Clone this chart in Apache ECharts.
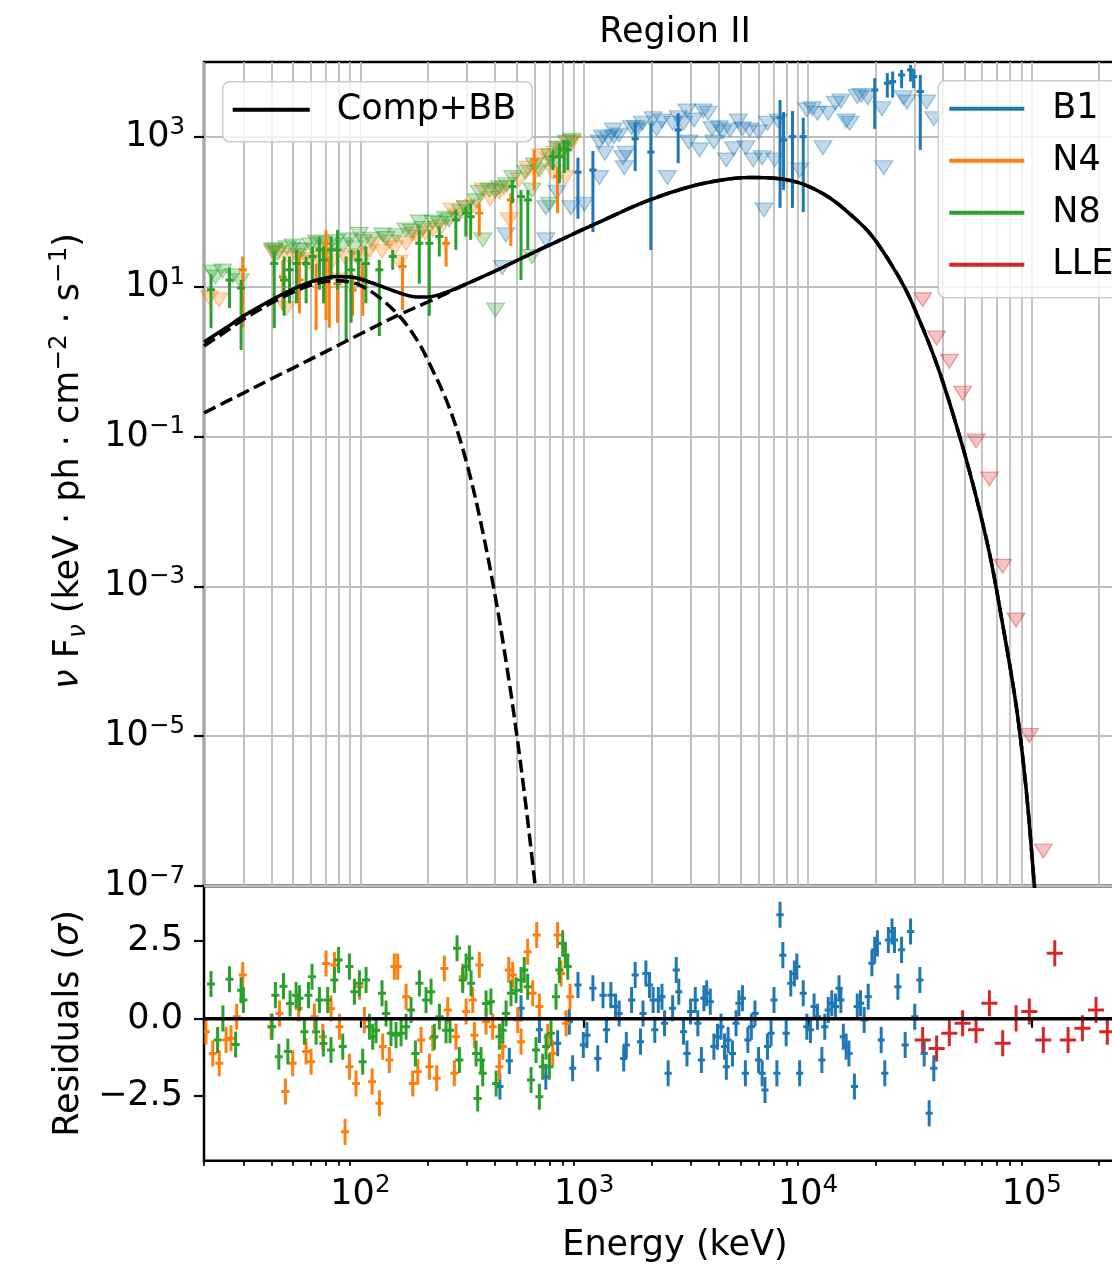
<!DOCTYPE html>
<html>
<head>
<meta charset="utf-8">
<title>Region II</title>
<script src="https://cdn.jsdelivr.net/npm/echarts@6.0.0/dist/echarts.min.js"></script>
<style>
html,body{margin:0;padding:0;background:#fff;overflow:hidden;width:1112px;height:1264px;}
#chart{width:1350px;height:1264px;}
</style>
</head>
<body>
<div id="chart"></div>
<script>
// ================= DATA =================
// Energies in keV, nuFnu in keV ph cm^-2 s^-1, residuals in sigma.
const detectorNames = ['B1', 'N4', 'N8', 'LLE'];

// Tick values
const xMajorTicksKeV = [100, 1000, 10000, 100000];
const xMinorTicksKeV = [20,30,40,50,60,70,80,90,200,300,400,500,600,700,800,900,
  2000,3000,4000,5000,6000,7000,8000,9000,20000,30000,40000,50000,60000,70000,80000,90000,200000,300000];
const fluxTicks = [1e-7, 1e-5, 1e-3, 1e-1, 1e1, 1e3];
const residualTicks = [-2.5, 0, 2.5];

// Model curves [E, nuFnu]
const modelTotal = [[20,1.83],[25,2.81],[30,4.06],[40,6.64],[50,9.31],[60,11.6],[70,13.1],[80,13.7],[90,13.5],[100,12.7],
  [120,10.5],[150,8.24],[178,7.3],[200,7.3],[250,8.74],[300,11.04],[400,16.2],[600,29.1],[800,43.4],[1170,73.1],[1900,139],
  [3040,221],[4400,274],[5470,287],[6860,283],[9160,243],[12340,158],[15950,85.3],[19190,49],[23080,22.0],[26970,9.9],
  [30410,4.59],[37350,0.99],[45880,0.147],[54270,0.0247],[64700,2.79e-3],[73950,3.24e-4],[85150,2.6e-5],[94400,1.97e-6],
  [102800,1.0e-7],[106000,3e-8]];
const modelComp = [[20,0.206],[25,0.29],[30,0.38],[40,0.59],[50,0.82],[60,1.08],[70,1.36],[80,1.67],[100,2.34],[120,3.08],
  [150,4.26],[200,6.25],[250,8.5],[300,11.0],[400,16.2],[600,29.1],[800,43.4],[1170,73.1],[1900,139],[3040,221],[4400,274],
  [5470,287],[6860,283],[9160,243],[12340,158],[15950,85.3],[19190,49],[23080,22.0],[26970,9.9],[30410,4.59],[37350,0.99],
  [45880,0.147],[54270,0.0247],[64700,2.79e-3],[73950,3.24e-4],[85150,2.6e-5],[94400,1.97e-6],[102800,1.0e-7],[106000,3e-8]];
const modelBB = [[20,1.62],[25,2.52],[30,3.68],[40,6.05],[50,8.49],[60,10.5],[70,11.7],[80,12.0],[90,11.5],[100,10.4],
  [120,7.4],[150,4.0],[178,2.0],[200,1.05],[250,0.24],[300,0.042],[350,5.85e-3],[400,7.5e-4],[450,9.0e-5],[500,1.03e-5],
  [550,1.13e-6],[600,1.2e-7],[620,4.9e-8]];

// Upper limits (triangles) [E, nuFnu]
const b1Limits = [[431,18.0],[447,49.2],[674,42.2],[674,113],[754,183],[872,113],[1000,126],[1169,286],[1169,853],[1209,1000],
  [1237,606],[1281,944],[1350,1240],[1356,1007],[1431,1063],[1490,527],[1511,387],[1539,606],[1629,1327],[1700,1327],[1721,1240],
  [1819,1522],[2033,1745],[2107,1284],[2227,1629],[2355,286],[2485,1522],[2630,1804],[2779,1522],[2880,2215],[2934,853],
  [3099,1686],[3279,671],[3403,2215],[3577,2071],[3729,1284],[3799,853],[4016,1327],[4163,1160],[4318,493],[4483,1240],
  [4653,695],[4887,1629],[5097,1284],[5282,718],[5489,1240],[5692,493],[6010,1160],[6243,527],[6358,106],[6593,1522],
  [7101,493],[7366,1629],[9181,362],[9888,2293],[10450,2374],[11030,2071],[11670,718],[12320,2071],[13270,2816],[14030,3013],
  [14820,1629],[15380,1522],[16610,3453],[17300,3581],[18480,3337],[21400,2374],[21810,387],[26720,3337],[27710,2916],
  [33920,2916],[36510,1745]];
const n4Limits = [[21.15,7.1],[23.4,6.67],[40.5,29],[43.4,29],[46.6,5.1],[48.2,24],[52,26],[56,23],[59.1,21.3],[65,24],[70,27],
  [75,22],[80.5,12.3],[86,24],[95,26],[100,22],[108,28],[113.3,36.8],[125,30],[134.7,39.4],[142,33],[149.3,21.3],[160,38],
  [170.5,50],[180,46],[195,52],[210.8,57.3],[230,62],[256,106],[270,88],[295,113],[320,120],[353,196],[380,150],[418,183],
  [440,210],[463,78],[513,267],[560,380],[606,338],[640,560],[699,493],[725,338],[740,600],[775,718],[825,286],[860,820],[888,853]];
const n8Limits = [[21.8,15.7],[22.5,13.5],[24.2,16.2],[27,14],[29,12],[40.5,31],[41.4,31],[42.5,28],[47,33],[50,35],[53.4,31],
  [55,31],[60,36],[63.6,39.5],[67,38],[72,34],[78,40],[84,36],[89.2,42.2],[94,33],[98.9,50],[103,40],[112,43],[125.8,49.2],
  [130,44],[145,48],[159.8,57.3],[170,55],[183.3,72.9],[190,60],[210.8,72.9],[225,70],[240,82],[249.6,78],[280,100],[295,113],
  [330,140],[340,183],[352.6,42.2],[376.6,196],[400,190],[402,4.9],[418,209],[450,230],[480,286],[547,338],[584,196],[584,25.3],
  [600,420],[631,362],[699,126],[700,560],[725,447],[760,700],[806,671],[832,853],[880,900]];
const lleLimits = [[32550,6.68],[37580,2.07],[42840,1.01],[49110,0.378],[56380,0.0873],[64700,0.0271],[74190,1.85e-3],
  [85130,3.54e-4],[97540,1.02e-5],[112700,2.94e-7]];

// Detected points with error bars [E, nuFnu, low, high]
const b1Points = [[938,338,80.7,527],[1094,362,53.6,648],[1690,944,350,1576],[1986,627,31,1522],[2630,1240,445,2071],
  [7505,1804,113,3119],[7780,912,196,2144],[8530,1007,113,2215],[9528,1007,99,1804],[19880,4242,1284,6077],
  [22630,5212,3337,7088],[23910,5473,3337,7447],[26210,6721,4466,7844],[28750,7844,5473,9145],[29660,6380,4466,7844],
  [31770,4029,671,6721]];
const n4Points = [[29.8,16.8,2.84,25.3],[45.0,13.6,4.9,22.8],[53.4,12.3,4.4,25.3],[63.4,12.3,2.65,20.4],[70.2,38,3.6,57],
  [72.6,13.6,2.84,25.3],[79.0,11,3.3,16.8],[92.4,9.07,4.1,14.6],[102.4,13.6,4.1,20.4],[154.3,18.6,4.9,25.3],
  [241.5,38,18.6,46.8],[339.8,96,46.8,130],[470,144,35,177],[598,493,196,671],[760,295,96,398]];
const n8Points = [[21.5,9.1,2.8,14.6],[26.0,12.3,5.2,18.0],[29.3,9.6,1.43,12.3],[41.2,20.4,2.8,29.8],[45.6,12.3,4.1,25.3],
  [48.2,16.8,6.0,25.3],[51.8,20.4,6.0,31],[57.2,20.4,6.0,25.3],[61.1,25.3,12.3,34.5],[65.6,31,9.1,46.8],[68.5,22.8,6.0,34.5],
  [74.0,31,12.3,46.8],[79.0,31,9.1,57],[86.3,13.6,1.95,25.3],[90.9,16.8,3.3,31],[98.0,22.8,11,31],[105.8,20.4,6.0,34.5],
  [121.5,16.8,2.2,22.8],[139.4,25.3,16.8,31],[183.3,38,11,57],[203.2,38,4.1,57],[225.2,46.8,25.3,63.6],[267,78,31,106],
  [296,96,46.8,117],[311,86,42.2,130],[478,217,130,267],[522,160,12.3,196],[560,144,31,196],[725,545,362,671],
  [775,545,240,820],[815,671,330,912],[845,671,362,912]];

// Residuals [E, sigma]
const b1Residuals = [[420,-2.19],[463,-1.36],[522,0.34],[631,-0.36],[674,-1.87],[761,-0.79],[858,-0.1],[888,-1.6],[938,1.09],
  [991,-0.85],[1029,-0.53],[1094,0.98],[1150,-1.28],[1214,0.76],[1257,-0.36],[1316,0.76],[1381,0.39],[1433,0.17],[1502,-1.28],
  [1543,-0.85],[1629,0.6],[1690,1.41],[1785,-0.74],[1832,0.17],[1887,1.46],[1959,1.09],[2033,0.6],[2068,-0.36],[2145,0.6],
  [2227,0.71],[2286,-0.15],[2373,-1.76],[2485,0.34],[2579,1.57],[2647,0.87],[2779,-0.42],[2880,-1.12],[2989,0.23],[3137,0.6],
  [3220,-0.15],[3341,-1.33],[3428,0.66],[3528,0.82],[3660,0.55],[3799,-0.9],[3943,-0.58],[4087,-0.26],[4239,-0.9],[4318,-1.55],
  [4398,-0.69],[4600,-1.12],[4773,-0.15],[4913,0.5],[5097,0.66],[5253,-1.76],[5389,-0.69],[5587,-0.26],[5798,0.17],[6015,-1.33],
  [6243,-1.76],[6426,-2.3],[6593,-0.9],[6842,-0.47],[7050,0.6],[7264,-1.76],[7505,3.35],[7723,2.05],[7990,-0.47],[8378,1.14],
  [8696,1.46],[8921,1.68],[9181,-1.76],[9528,0.82],[9888,-0.26],[10260,-0.36],[10650,0.39],[11030,0.06],[11540,-1.33],
  [11890,-0.26],[12320,0.28],[12780,0.5],[13270,0.39],[13770,0.98],[14030,0.6],[14390,-0.58],[14820,-0.9],[15250,-1.12],
  [16130,-2.19],[16610,0.39],[17180,0.5],[17830,-0.04],[18590,0.71],[19310,1.79],[19880,2.22],[20440,2.43],[21250,-0.69],
  [22050,-1.76],[22880,2.54],[23750,2.81],[24360,2.54],[25230,1.03],[26210,2.22],[27200,-0.85],[28750,2.81],[30020,0.06],
  [31640,1.25],[33070,-1.12],[34810,-3.05],[36510,-1.6]];
const n4Residuals = [[20.4,-0.42],[21.9,-1.12],[23.4,-1.44],[25.1,-0.69],[26.4,-0.63],[28.0,0.06],[29.8,1.41],[39.9,-0.26],
  [43.5,0.17],[46.2,-2.35],[49.8,-1.44],[53.0,0.33],[57.2,-1.06],[60.2,-1.39],[62.3,0.06],[67.9,-0.58],[70.2,1.78],[73.9,0.33],
  [76.5,1.73],[80.6,-0.26],[85.4,-3.65],[89.3,-1.55],[95.6,-2.09],[99.0,1.03],[104.2,-0.04],[112.8,-2.03],[121.6,-2.73],
  [125.8,-0.9],[134.7,-1.33],[141.8,1.68],[146.8,1.68],[160.0,0.71],[171.4,-2.09],[180.4,-1.71],[186.7,-0.69],[203.4,-1.55],
  [210.5,-0.63],[219.3,-1.92],[237.2,1.62],[245.7,0.28],[263.0,-1.76],[267.5,-0.58],[286.5,1.35],[296.6,0.23],[317.7,0.6],
  [323.1,-0.53],[340.2,1.73],[364.4,-0.1],[390.3,-0.26],[417.9,-1.55],[432.5,-0.9],[460.1,1.57],[479.3,1.41],[504.7,-0.04],
  [522.4,-0.74],[559.1,2.16],[588.8,0.82],[613.5,2.7],[630.6,0.39],[687,-0.58],[723.4,-1.12],[760.4,2.7],[787.8,1.46],
  [829.8,-0.15],[864.7,0.71]];
const n8Residuals = [[21.5,1.12],[23.0,-0.69],[24.3,0.01],[26.0,1.27],[27.7,-0.83],[29.3,0.92],[30.0,0.6],[40.3,-0.26],
  [41.7,0.76],[43.2,-1.23],[45.3,1.05],[47.4,-1.06],[48.5,0.49],[51.6,0.76],[53.4,0.66],[56.2,-0.42],[58.6,0.76],[60.8,1.35],
  [63.4,-0.42],[65.6,0.6],[68.3,-0.8],[71.4,0.6],[73.9,-1.01],[76.5,1.25],[79.9,1.89],[83.4,-0.9],[89.3,1.68],[94.0,0.87],
  [99.0,1.14],[102.4,-1.39],[106.0,1.25],[109.7,-0.26],[113.5,-0.58],[117.5,-0.37],[124.9,0.82],[130.2,0.17],[136.9,-0.47],
  [144.3,-0.53],[152.0,-0.47],[160.0,-0.26],[168.4,0.28],[176.1,-1.12],[183.5,1.14],[196.5,0.6],[206.9,0.87],[214.1,-0.58],
  [225.4,0.06],[241.4,-0.37],[251.5,-0.37],[270.3,2.27],[276.9,-1.33],[286.5,1.25],[296.6,1.68],[307.0,1.95],[312.3,1.14],
  [328.8,-1.12],[334.3,-2.57],[346.1,-1.33],[352.1,-1.76],[364.4,0.49],[383.1,0.55],[403.9,-2.09],[417.9,-0.58],[432.5,-0.37],
  [447.6,0.17],[471.0,0.82],[496.1,0.92],[522.4,1.25],[539.7,1.57],[559.1,1.03],[578.9,-1.98],[609.3,-1.01],[630.6,-2.52],
  [652.7,-1.55],[675.4,-0.9],[699,-1.55],[711.1,-0.47],[748.6,0.71],[774.8,1.57],[801.8,2.43],[824.2,2.05],[844.2,1.68]];
const lleResiduals = [[32550,-0.69],[37580,-0.96],[42840,-0.47],[49110,-0.15],[56380,-0.36],[64700,0.50],[74190,-0.79],
  [85130,0.01],[97540,0.23],[112700,-0.69],[126800,2.11],[145400,-0.69],[168500,-0.31],[193800,0.28],[217700,-0.42]];
const residualError = 0.42;   // half length of the residual error bars (sigma)

// ================= CHART =================
const FONT = 'DejaVu Sans';
const LOG = Math.log10;
const COLORS = { B1: '#1f77b4', N4: '#ff7f0e', N8: '#2ca02c', LLE: '#d62728' };
const X_MIN = LOG(20);
const X_MAX = X_MIN + 942 / 223.77;

function rgba(hex, a) {
  const n = parseInt(hex.slice(1), 16);
  return 'rgba(' + ((n >> 16) & 255) + ',' + ((n >> 8) & 255) + ',' + (n & 255) + ',' + a + ')';
}
function fmtExp(e) { return e < 0 ? '\u2212' + (-e) : String(e); }

const powRich = {
  b: { fontSize: 35, fontFamily: FONT, color: '#000', lineHeight: 44 },
  s: { fontSize: 24.5, fontFamily: FONT, color: '#000', lineHeight: 26, verticalAlign: 'top' }
};

function limitSeries(name, arr) {
  return {
    type: 'scatter', name, xAxisIndex: 0, yAxisIndex: 0, z: 2, silent: true, clip: true,
    symbol: 'triangle', symbolRotate: 180, symbolSize: [18, 14],
    itemStyle: { color: rgba(COLORS[name], 0.35), borderColor: rgba(COLORS[name], 0.5), borderWidth: 1.2 },
    data: arr.map(d => [LOG(d[0]), LOG(d[1])])
  };
}
function pointSeries(name, arr, dx) {
  const c = COLORS[name];
  return {
    type: 'custom', name, xAxisIndex: 0, yAxisIndex: 0, z: 3, silent: true, clip: true,
    itemStyle: { color: c },
    data: arr.map(d => [LOG(d[0]), LOG(d[1]), LOG(d[2]), LOG(d[3])]),
    renderItem: function (params, api) {
      const x = api.value(0), y = api.value(1);
      const a = api.coord([x, api.value(2)]), b = api.coord([x, api.value(3)]);
      const l = api.coord([x - dx, y]), r = api.coord([x + dx, y]);
      const st = { stroke: c, lineWidth: 3 };
      return { type: 'group', children: [
        { type: 'line', shape: { x1: a[0], y1: a[1], x2: b[0], y2: b[1] }, style: st },
        { type: 'line', shape: { x1: l[0], y1: l[1], x2: r[0], y2: r[1] }, style: st }
      ] };
    }
  };
}
function residualSeries(name, arr, dx) {
  const c = COLORS[name];
  return {
    type: 'custom', name, xAxisIndex: 1, yAxisIndex: 1, z: 3, silent: true, clip: true,
    itemStyle: { color: c },
    data: arr.map(d => [LOG(d[0]), d[1]]),
    renderItem: function (params, api) {
      const x = api.value(0), y = api.value(1);
      const a = api.coord([x, y - residualError]), b = api.coord([x, y + residualError]);
      const l = api.coord([x - dx, y]), r = api.coord([x + dx, y]);
      const st = { stroke: c, lineWidth: 3 };
      return { type: 'group', children: [
        { type: 'line', shape: { x1: a[0], y1: a[1], x2: b[0], y2: b[1] }, style: st },
        { type: 'line', shape: { x1: l[0], y1: l[1], x2: r[0], y2: r[1] }, style: st }
      ] };
    }
  };
}
function modelSeries(name, arr, dashed) {
  return {
    type: 'line', name, xAxisIndex: 0, yAxisIndex: 0, z: 5, silent: true, clip: true,
    showSymbol: false, symbol: 'none', smooth: 0.35, color: '#000',
    lineStyle: { color: '#000', width: 3.5, type: dashed ? [13, 5.6] : 'solid' },
    data: arr.map(d => [LOG(d[0]), LOG(d[1])])
  };
}

const gridX = xMajorTicksKeV.concat(xMinorTicksKeV).map(LOG);
const legendText = { fontSize: 35, fontFamily: FONT, color: '#000', lineHeight: 40 };
const nameRich = {
  t: { fontSize: 35, fontFamily: FONT, color: '#000', lineHeight: 44 },
  i: { fontSize: 35, fontFamily: FONT, fontStyle: 'italic', color: '#000', lineHeight: 44 },
  sub: { fontSize: 24.5, fontFamily: FONT, fontStyle: 'italic', color: '#000', lineHeight: 26, verticalAlign: 'bottom' },
  sup: { fontSize: 24.5, fontFamily: FONT, color: '#000', lineHeight: 26, verticalAlign: 'top' }
};

const option = {
  animation: false,
  backgroundColor: '#fff',
  title: {
    text: 'Region II', left: 'center', top: 11.4, padding: 0,
    textStyle: { fontSize: 35, fontWeight: 'normal', fontFamily: FONT, color: '#000', lineHeight: 44 }
  },
  legend: [
    {
      data: [{ name: 'Comp+BB', itemStyle: { color: '#000', opacity: 1 } }],
      left: 222.7, top: 81.7, orient: 'vertical', icon: 'rect', itemWidth: 77, itemHeight: 4,
      padding: [8, 16, 12, 10], selectedMode: false, z: 10,
      itemStyle: { borderWidth: 0 },
      textStyle: Object.assign({ padding: [0, 0, 0, 22] }, legendText),
      backgroundColor: 'rgba(255,255,255,0.8)', borderColor: '#cccccc', borderWidth: 1.5, borderRadius: 7
    },
    {
      data: detectorNames.map(n => ({ name: n, itemStyle: { color: COLORS[n], opacity: 1 } })),
      left: 938.3, top: 80.7, orient: 'vertical', icon: 'rect', itemWidth: 75, itemHeight: 4, itemGap: 12,
      padding: [8, 20, 13, 11], selectedMode: false, z: 10,
      itemStyle: { borderWidth: 0 },
      textStyle: Object.assign({ padding: [0, 0, 0, 23] }, legendText),
      backgroundColor: 'rgba(255,255,255,0.8)', borderColor: '#cccccc', borderWidth: 1.5, borderRadius: 7
    }
  ],
  grid: [
    { left: 204, top: 62, width: 942, height: 824, show: true, borderColor: '#000', borderWidth: 2.5,
      backgroundColor: 'transparent', containLabel: false, outerBoundsMode: 'none' },
    { left: 204, top: 886, width: 942, height: 274.7, show: true, borderColor: '#000', borderWidth: 2.5,
      backgroundColor: 'transparent', containLabel: false, outerBoundsMode: 'none' }
  ],
  xAxis: [
    { type: 'value', gridIndex: 0, min: X_MIN, max: X_MAX, position: 'bottom',
      axisLine: { show: false }, axisLabel: { show: false },
      axisTick: { show: false, customValues: gridX },
      splitLine: { show: true, lineStyle: { color: '#bdbdbd', width: 1.8 } } },
    { type: 'value', gridIndex: 1, min: X_MIN, max: X_MAX, position: 'bottom',
      axisLine: { show: false },
      axisTick: { show: true, inside: false, length: 9, customValues: xMajorTicksKeV.map(LOG),
        lineStyle: { color: '#000', width: 2.2 } },
      axisLabel: { show: true, margin: 12.7, customValues: xMajorTicksKeV.map(LOG),
        formatter: v => '{b|10}{s|' + fmtExp(Math.round(v)) + '}', rich: powRich },
      splitLine: { show: false },
      name: 'Energy (keV)', nameLocation: 'middle', nameGap: 63, nameMoveOverlap: false,
      nameTextStyle: { fontSize: 35, fontFamily: FONT, color: '#000', lineHeight: 44 } },
    { type: 'value', gridIndex: 1, min: X_MIN, max: X_MAX, position: 'bottom',
      axisLine: { show: false }, axisLabel: { show: false }, splitLine: { show: false },
      axisTick: { show: true, inside: false, length: 5, customValues: xMinorTicksKeV.map(LOG),
        lineStyle: { color: '#000', width: 1.8 } } }
  ],
  yAxis: [
    { type: 'value', gridIndex: 0, min: -7, max: 4, position: 'left',
      axisLine: { show: false },
      axisTick: { show: true, inside: false, length: 10, customValues: fluxTicks.map(LOG),
        lineStyle: { color: '#000', width: 2.2 } },
      axisLabel: { show: true, margin: 19, customValues: fluxTicks.map(LOG),
        formatter: v => '{b|10}{s|' + fmtExp(Math.round(v)) + '}', rich: powRich },
      splitLine: { show: true, lineStyle: { color: '#bdbdbd', width: 1.8 } },
      name: '{i|\u03bd}{t| F}{sub|\u03bd}{t| (keV \u00b7 ph \u00b7 cm}{sup|\u22122}{t| \u00b7 s}{sup|\u22121}{t|)}',
      nameLocation: 'middle', nameGap: 113, nameRotate: 90, nameMoveOverlap: false,
      nameTextStyle: { padding: [0, 0, 0, 26], rich: nameRich } },
    { type: 'value', gridIndex: 1, min: -4.58, max: 4.28, position: 'left',
      axisLine: { show: false },
      axisTick: { show: true, inside: false, length: 10, customValues: residualTicks,
        lineStyle: { color: '#000', width: 2.2 } },
      axisLabel: { show: true, margin: 21, customValues: residualTicks, fontSize: 35, fontFamily: FONT, color: '#000',
        formatter: v => (v < 0 ? '\u2212' + (-v).toFixed(1) : v.toFixed(1)) },
      splitLine: { show: false },
      name: '{t|Residuals (}{i|\u03c3}{t|)}', nameLocation: 'middle', nameGap: 113, nameRotate: 90, nameMoveOverlap: false,
      nameTextStyle: { rich: nameRich } }
  ],
  series: [
    limitSeries('B1', b1Limits), limitSeries('N4', n4Limits), limitSeries('N8', n8Limits), limitSeries('LLE', lleLimits),
    pointSeries('B1', b1Points, 0.016), pointSeries('N4', n4Points, 0.018), pointSeries('N8', n8Points, 0.018),
    modelSeries('Comp+BB', modelTotal, false),
    modelSeries('Comp', modelComp, true),
    modelSeries('BB', modelBB, true),
    residualSeries('B1', b1Residuals, 0.016), residualSeries('N4', n4Residuals, 0.018),
    residualSeries('N8', n8Residuals, 0.018), residualSeries('LLE', lleResiduals, 0.036),
    { type: 'line', name: 'zero', xAxisIndex: 1, yAxisIndex: 1, z: 6, silent: true, showSymbol: false, symbol: 'none',
      lineStyle: { color: '#000', width: 3.5 }, data: [[X_MIN, 0], [X_MAX, 0]] }
  ]
};

const chart = echarts.init(document.getElementById('chart'), null, { renderer: 'canvas' });
chart.setOption(option);
</script>
</body>
</html>
